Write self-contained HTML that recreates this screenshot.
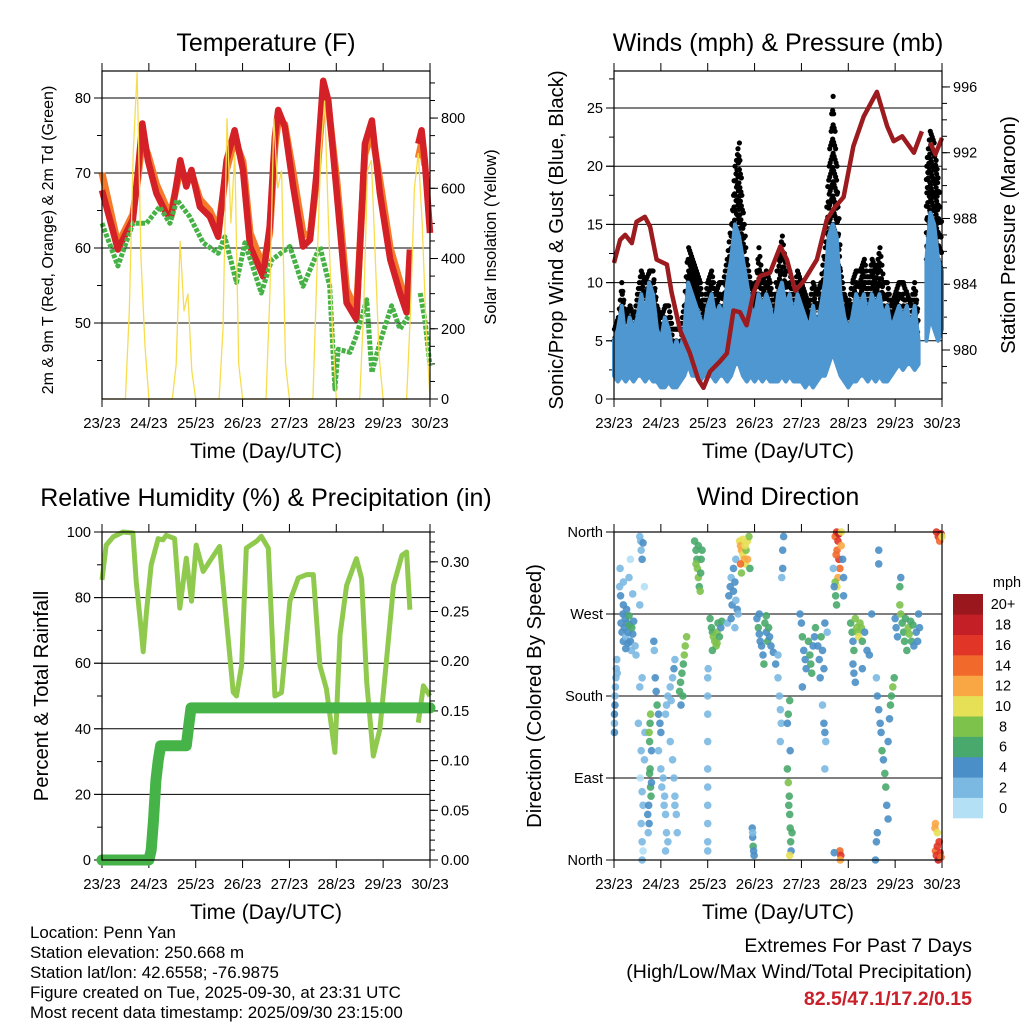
<!DOCTYPE html>
<html><head><meta charset="utf-8"><style>
body{margin:0;background:#fff;}
svg{display:block;font-family:"Liberation Sans",Arial,sans-serif;}
</style></head><body>
<svg id="chart" width="1024" height="1024" viewBox="0 0 1024 1024" xmlns="http://www.w3.org/2000/svg">
<rect width="1024" height="1024" fill="#fff"/>
<g id="g1"></g>
<g id="g2"></g>
<g id="g3"></g>
<g id="g4"></g>
<text x="266" y="51" font-size="25" text-anchor="middle">Temperature (F)</text>
<text x="778" y="51" font-size="25" text-anchor="middle">Winds (mph) &amp; Pressure (mb)</text>
<text x="266" y="506" font-size="25" text-anchor="middle">Relative Humidity (%) &amp; Precipitation (in)</text>
<text x="778" y="505" font-size="25" text-anchor="middle">Wind Direction</text>
<text x="266" y="458" font-size="21" text-anchor="middle">Time (Day/UTC)</text>
<text x="778" y="458" font-size="21" text-anchor="middle">Time (Day/UTC)</text>
<text x="266" y="919" font-size="21" text-anchor="middle">Time (Day/UTC)</text>
<text x="778" y="919" font-size="21" text-anchor="middle">Time (Day/UTC)</text>
<text transform="translate(53,240) rotate(-90)" font-size="16" text-anchor="middle">2m &amp; 9m T (Red, Orange) &amp; 2m Td (Green)</text>
<text transform="translate(496,237) rotate(-90)" font-size="16.4" text-anchor="middle">Solar Insolation (Yellow)</text>
<text transform="translate(563,240) rotate(-90)" font-size="20.3" text-anchor="middle">Sonic/Prop Wind &amp; Gust (Blue, Black)</text>
<text transform="translate(1015,235) rotate(-90)" font-size="20.3" text-anchor="middle">Station Pressure (Maroon)</text>
<text transform="translate(48,696) rotate(-90)" font-size="20.3" text-anchor="middle">Percent &amp; Total Rainfall</text>
<text transform="translate(541,696) rotate(-90)" font-size="20.3" text-anchor="middle">Direction (Colored By Speed)</text>
<g font-size="16.9">
<text x="30" y="938">Location: Penn Yan</text>
<text x="30" y="958">Station elevation: 250.668 m</text>
<text x="30" y="978">Station lat/lon: 42.6558; -76.9875</text>
<text x="30" y="998">Figure created on Tue, 2025-09-30, at 23:31 UTC</text>
<text x="30" y="1018">Most recent data timestamp: 2025/09/30 23:15:00</text>
</g>
<g font-size="19.5" text-anchor="end">
<text x="972" y="952">Extremes For Past 7 Days</text>
<text x="972" y="978">(High/Low/Max Wind/Total Precipitation)</text>
<text x="972" y="1005" fill="#c9202a" font-weight="bold">82.5/47.1/17.2/0.15</text>
</g>
</svg>
<script>
// ---------- data ----------
const dayLabels = ["23/23","24/23","25/23","26/23","27/23","28/23","29/23","30/23"];
const tempT = [0,0.34,0.66,0.77,0.86,0.98,1.16,1.37,1.48,1.67,1.8,1.91,2.09,2.3,2.48,2.66,2.83,3.01,3.16,3.44,3.58,3.69,3.76,3.9,4.08,4.29,4.44,4.58,4.72,4.83,5.01,5.22,5.43,5.61,5.76,5.93,6.15,6.36,6.5,6.57,6.66,6.75,6.82,6.89,7];
const tempRed = [67.7,59.8,63.8,70.4,76.6,71.7,67.3,64.6,64.3,71.7,68.2,70.4,65.5,64.2,61.5,71.7,75.7,70.4,60.2,56.2,62.9,74.8,78.4,76.2,68.2,60.2,61.1,70,82.3,79.7,67.3,52.7,50.5,73.9,77,67.3,58.5,54,51.4,59.8,null,73.9,75.7,71.7,62];
const tempOrange = [70,60.5,64.5,69.5,74.5,72.5,68.5,65.5,65,70.5,68.8,70,66.5,65,62.5,70.5,74.5,71.5,62,57.5,62,73.5,77,76.5,70,62,61.5,69,80.5,79,69,54.5,51.5,72.5,75.5,69,60,55.5,52.5,null,null,72,74,71,null];
const dewT = [0,0.34,0.66,0.95,1.23,1.45,1.6,1.87,2.16,2.48,2.62,2.87,3.05,3.4,3.62,4.01,4.29,4.65,4.86,4.97,5.04,5.29,5.43,5.65,5.76,5.93,6.18,6.36,6.55,6.66,6.79,6.89,7];
const dewV = [63.3,57.6,63.3,63.3,65.5,63.3,66.4,64.2,60.7,59.3,61.5,55.4,60.7,54,58.4,60.2,54.9,60.2,54.9,41.2,46.5,46.1,48.3,53.1,43.4,47.4,52.3,49.2,51,null,54,50.5,44.3];
const solarV = [0,0,0,0,0,0,0,250,700,930,400,150,0,0,0,0,0,0,0,100,450,250,300,80,0,0,0,0,0,0,0,200,800,500,700,100,0,0,0,0,0,0,0,300,800,600,650,100,0,0,0,0,0,0,0,350,700,850,500,200,0,0,0,0,0,0,0,250,650,680,400,120,0,0,0,0,0,0,0,250,600,700,500,200,0];
const windHi = [5,6,8,5,7,6,7,9,7,10,9,6,5,7,6,4,5,4,6,10,9,8,7,6,8,9,7,8,7,10,12,15,14,12,10,8,7,9,8,9,8,6,9,10,8,9,7,9,8,7,6,8,6,8,10,14,15,14,9,7,6,7,9,8,9,7,9,8,9,7,8,6,7,8,7,8,6,8,5,null,12,16,15,12,11];
const windLo = [2,1.5,2,1.5,2,1.5,2,2,1.5,2,1.5,1.5,1,1,1.5,1,1,1.5,2,3,2,2,1.5,2,2,2,1.5,2,2,1.5,2,3,3,2,1.5,2,1.5,2,1.5,2,1.5,1.5,1.5,2,1.5,2,1.5,1.5,1.5,1,1.5,1,1.5,2,2,3,4,3,2,1.5,1,1.5,1.5,2,2,1.5,2,1.5,2,1.5,1.5,2,2.5,3,2.5,3,3,2.5,3,null,5,7,6,5,6];
const gustV = [6,7,10,7,8,7,9,11,10,11,11,8,7,8,8,6,6,6,8,13,12,11,10,8,10,11,9,10,10,12,15,20,22,16,12,10,9,13,10,11,10,8,12,14,11,11,9,11,10,9,8,10,9,10,13,20,26,20,11,9,8,10,11,11,12,10,12,11,13,10,10,8,9,10,10,9,8,10,7,null,20,23,22,19,14];
const pressT = [0,0.13,0.24,0.38,0.48,0.66,0.77,0.91,1.13,1.23,1.41,1.62,1.8,1.91,2.05,2.26,2.41,2.55,2.69,2.83,2.98,3.12,3.33,3.55,3.69,3.87,4.05,4.33,4.54,4.69,4.9,5.11,5.33,5.61,5.83,5.97,6.15,6.4,6.57,6.66,6.75,6.86,7];
const pressV = [985.3,986.7,987.0,986.5,987.8,988.1,987.5,985.5,985.2,983.5,981.2,979.8,978.2,977.7,978.7,979.3,979.8,982.4,982.3,981.5,983.5,984.5,984.7,986.3,985.5,983.6,984.2,985.5,987.9,988.6,989.3,992.4,994.2,995.7,993.6,992.7,993.0,992.0,993.3,null,992.6,991.9,992.9];
const rhT = [0,0.09,0.24,0.45,0.66,0.73,0.84,0.88,0.95,1.05,1.2,1.3,1.37,1.55,1.66,1.8,1.91,2.01,2.16,2.3,2.51,2.66,2.8,2.87,2.98,3.08,3.3,3.4,3.55,3.69,3.83,4.01,4.19,4.37,4.51,4.65,4.79,4.97,5.08,5.22,5.43,5.54,5.65,5.79,5.93,6.08,6.22,6.4,6.5,6.57,6.66,6.75,6.86,7];
const rhV = [85.4,96,98.5,100,99.7,85,69.6,63.5,75.8,90,98,97.6,99,98,76.8,92,78.9,96,88,91.1,95.6,72.6,51.2,50,59.3,95.1,97.2,98.7,95.1,50,51,78.9,86,87,87,59.3,52.2,32.8,68.5,83.7,91.9,85.8,54.3,31.7,39.9,62.2,83.7,92.9,93.9,76.3,null,41.9,53.1,50];
const precipT = [0,1.0,1.05,1.1,1.15,1.2,1.25,1.8,1.85,1.9,7];
const precipV = [0,0,0.01,0.04,0.08,0.1,0.115,0.115,0.135,0.153,0.153];
const dirT = [0.01,0.01,0.02,0.01,0.03,0.04,0.05,0.06,0.07,0.02,
0.15,0.17,0.19,0.2,0.22,0.24,0.25,0.27,0.28,0.3,0.32,0.33,0.35,0.37,0.4,0.42,0.45,0.47,0.3,0.2,0.25,0.38,
0.12,0.13,0.2,0.14,0.32,0.35,0.4,
0.55,0.57,0.58,0.6,0.62,0.65,0.55,0.55,0.6,0.52,0.56,0.6,0.62,0.58,0.6,0.62,0.6,0.58,0.65,0.66,
0.76,0.78,0.79,0.8,0.74,0.72,0.73,0.75,0.77,0.8,0.75,0.77,0.78,0.76,
0.88,0.9,0.92,0.95,0.98,1.0,0.86,0.85,0.95,1.0,1.05,1.08,1.1,1.12,1.02,1.07,1.15,1.1,
1.1,1.12,1.15,1.2,1.22,1.25,1.28,1.3,
1.4,1.42,1.45,1.48,1.5,1.52,1.55,1.47,1.43,
1.2,1.25,1.28,1.3,1.33,1.35,1.3,
1.72,1.75,1.77,1.78,1.8,1.82,1.84,1.86,1.88,1.8,1.75,1.85,
2.0,2.0,2.0,2.0,2.0,2.0,2.0,2.0,2.0,2.0,2.01,
2.05,2.08,2.1,2.12,2.15,2.18,2.2,2.22,2.25,2.28,2.3,2.1,2.2,
2.45,2.48,2.5,2.52,2.55,2.58,2.6,2.63,2.65,2.42,2.5,2.55,2.6,2.58,
2.68,2.7,2.72,2.75,2.78,2.8,2.82,2.85,2.88,2.9,2.75,2.7,2.85,2.8,2.72,
2.95,2.96,2.97,2.98,2.99,2.96,
3.05,3.08,3.1,3.12,3.15,3.18,3.2,3.22,3.25,3.28,3.3,3.32,3.35,3.4,3.45,3.5,3.1,3.25,
3.5,3.53,3.55,3.57,3.55,3.6,3.6,3.62,3.58,
3.7,3.72,3.74,3.75,3.76,3.77,3.78,3.8,3.73,3.75,3.7,3.72,3.75,3.76,
3.97,4.0,4.02,4.05,4.08,4.1,4.15,4.18,4.2,4.22,4.25,4.28,4.3,4.35,4.38,4.42,4.45,4.48,4.5,4.55,4.02,4.4,
4.48,4.5,4.52,4.5,4.45,
4.72,4.75,4.78,4.76,4.8,4.82,4.78,4.76,4.85,4.8,4.74,4.72,4.73,4.75,4.7,4.68,4.85,4.88,4.9,4.9,
4.82,4.84,4.83,4.7,
5.05,5.08,5.1,5.12,5.15,5.18,5.2,5.22,5.25,5.28,5.3,5.35,5.4,5.45,5.1,5.12,5.15,5.5,5.3,
5.6,5.62,5.65,5.68,5.7,5.72,5.75,5.78,5.8,5.82,5.85,5.9,5.92,5.95,5.98,5.88,5.85,5.6,5.62,5.58,5.65,5.65,
6.0,6.02,6.05,6.1,6.12,6.15,6.18,6.2,6.22,6.28,6.3,6.33,6.35,6.38,6.4,6.45,6.48,6.5,6.52,6.1,6.12,6.25,
6.86,6.88,6.9,6.92,6.94,6.96,6.98,6.85,6.86,6.9,6.88,6.92,6.95,6.98,7.0];
const dirDeg = [150,160,170,140,190,200,210,220,205,180,
260,250,270,240,255,265,245,275,260,250,268,258,240,230,248,262,235,225,238,280,232,255,
300,320,305,290,310,330,292,
355,350,340,330,348,300,280,190,200,150,90,75,60,40,20,10,0,120,110,140,
95,80,70,85,60,50,30,40,100,120,140,150,160,130,
200,185,170,160,150,140,230,240,120,100,90,70,50,30,80,60,20,10,
160,170,180,190,175,200,210,220,
185,195,205,215,225,235,245,180,170,
130,110,90,70,50,30,60,
350,340,330,320,310,300,295,330,340,345,325,315,
200,180,160,100,80,60,40,20,10,130,210,
265,255,250,245,240,235,250,260,245,255,262,230,238,
290,300,310,280,295,305,285,275,270,260,265,320,330,255,
350,345,340,335,330,325,340,350,355,320,352,325,330,345,315,
35,25,15,10,5,30,
265,255,248,240,235,225,215,260,250,240,255,245,235,228,215,225,270,268,
200,180,165,150,130,320,340,355,310,
100,85,70,50,35,20,10,30,60,5,150,160,175,120,
270,260,245,230,220,210,240,225,215,205,235,245,255,235,220,245,230,210,260,250,190,200,
150,140,130,100,170,
355,360,350,340,330,320,310,300,345,358,335,305,290,280,300,320,360,330,310,290,
10,5,0,8,
260,250,240,230,265,255,250,245,260,255,240,250,230,225,215,205,195,270,210,
200,180,165,150,140,120,110,95,80,60,45,170,180,190,200,155,130,20,30,0,325,340,
265,255,245,280,270,260,250,240,265,255,248,262,240,258,235,250,240,270,255,300,310,230,
10,5,15,0,20,8,3,35,40,30,360,355,350,358,355];
const dirSpd = [3,4,4,4,2,3,3,2,3,3,
4,4,5,4,5,4,3,5,4,4,6,6,4,3,4,5,3,2,4,4,4,6,
2,2,3,4,2,1,2,
2,2,2,4,4,1,2,2,2,3,1,2,2,2,2,1,2,2,2,2,
6,7,6,5,4,4,3,4,6,5,8,7,8,7,
4,5,6,4,5,4,3,4,2,2,2,2,2,3,3,2,2,3,
2,2,2,3,2,3,4,3,
6,7,6,7,8,8,8,6,5,
2,2,3,2,2,2,3,
7,6,7,9,8,7,8,6,7,6,8,6,
2,3,2,2,2,2,2,2,2,2,3,
6,6,7,8,8,8,8,7,6,5,6,7,8,
4,4,3,4,4,4,3,4,3,3,4,4,2,3,
10,12,12,11,13,10,9,10,8,6,10,14,12,11,8,
5,4,6,4,4,3,
5,6,4,5,4,4,6,6,5,6,6,5,4,4,5,3,5,6,
3,2,2,2,2,4,4,4,3,
7,8,6,6,7,6,5,6,7,10,4,7,6,5,
4,5,6,4,5,4,6,6,7,6,5,4,7,4,4,6,4,4,4,2,4,5,
4,4,3,2,3,
15,17,16,14,16,14,12,10,13,18,15,8,7,7,4,3,10,4,5,4,
14,16,12,4,
6,7,5,6,8,8,9,10,8,9,6,5,4,4,4,4,4,5,4,
2,4,4,5,4,6,5,6,6,5,4,6,7,8,7,4,4,4,5,4,4,4,
4,5,4,8,8,7,6,7,6,8,8,7,7,6,4,4,5,4,4,6,4,6,
14,16,17,18,16,17,15,12,12,10,16,17,14,18,10];
const speedColors = ["#b4e0f6","#7bb8e2","#4a8fc7","#49a86b","#7dc24b","#e6e057","#f8a744","#f26a2b","#e03527","#c41f27","#9a181d"];
const speedLabels = ["0","2","4","6","8","10","12","14","16","18","20+"];

// ---------- helpers ----------
const NS = "http://www.w3.org/2000/svg";
function mk(parent, tag, attrs) {
  const e = document.createElementNS(NS, tag);
  for (const k in attrs) e.setAttribute(k, attrs[k]);
  parent.appendChild(e);
  return e;
}
function linScale(d0, d1, r0, r1) { return v => r0 + (v - d0) * (r1 - r0) / (d1 - d0); }
function pathFrom(xs, ys, fx, fy) {
  let d = "", pen = false;
  for (let i = 0; i < xs.length; i++) {
    if (ys[i] === null || ys[i] === undefined) { pen = false; continue; }
    d += (pen ? "L" : "M") + fx(xs[i]).toFixed(1) + "," + fy(ys[i]).toFixed(1);
    pen = true;
  }
  return d;
}
function drawBase(g, P, opts) {
  const fx = linScale(0, 7, P.x0, P.x1);
  const fyL = linScale(opts.lmin, opts.lmax, P.y1, P.y0);
  opts.grid.forEach(v => {
    const ln = mk(g, "line", {x1: P.x0 - 8, x2: P.x1, y1: fyL(v), y2: fyL(v), stroke: "#000", "stroke-width": 1});
    
    
  });
  for (let d = 0; d <= 7; d++) {
    const x = fx(d);
    mk(g, "line", {x1: x, x2: x, y1: P.y1, y2: P.y1 + 8, stroke: "#000", "stroke-width": 1});
    mk(g, "line", {x1: x, x2: x, y1: P.y0 - 8, y2: P.y0, stroke: "#000", "stroke-width": 1});
    const t = mk(g, "text", {x: x, y: P.y1 + 29, "font-size": 15, "text-anchor": "middle"});
    t.textContent = dayLabels[d];
    
    
  }
  opts.lminor.forEach(v => mk(g, "line", {x1: P.x0 - 5, x2: P.x0, y1: fyL(v), y2: fyL(v), stroke: "#000"}));
  opts.lmajor.forEach((v, i) => {
    mk(g, "line", {x1: P.x0 - 8, x2: P.x0, y1: fyL(v), y2: fyL(v), stroke: "#000"});
    const t = mk(g, "text", {x: P.x0 - 11, y: fyL(v) + 5, "font-size": 14.5, "text-anchor": "end"});
    t.textContent = opts.llabels[i];
    
    
  });
  if (opts.rmin !== undefined) {
    const fyR = linScale(opts.rmin, opts.rmax, P.y1, P.y0);
    opts.rminor.forEach(v => mk(g, "line", {x1: P.x1, x2: P.x1 + 5, y1: fyR(v), y2: fyR(v), stroke: "#000"}));
    opts.rmajor.forEach((v, i) => {
      mk(g, "line", {x1: P.x1, x2: P.x1 + 8, y1: fyR(v), y2: fyR(v), stroke: "#000"});
      const t = mk(g, "text", {x: P.x1 + 11, y: fyR(v) + 5, "font-size": 14.5});
      t.textContent = opts.rlabels[i];
      
      
    });
  }
  return fx;
}
function frame(g, P) {
  const r = mk(g, "rect", {x: P.x0, y: P.y0, width: P.x1 - P.x0, height: P.y1 - P.y0, fill: "none", stroke: "#000", "stroke-width": 1.2});
  
  
}
function range(a, b, s) { const o = []; for (let v = a; v <= b + 1e-9; v += s) o.push(+v.toFixed(4)); return o; }

// ---------- panel 1: temperature ----------
(function () {
  const g = document.getElementById("g1");
  const P = {x0: 102, x1: 430, y0: 71, y1: 399};
  const fx = drawBase(g, P, {lmin: 39.87, lmax: 83.6, grid: [50, 60, 70, 80], lmajor: [50, 60, 70, 80], llabels: ["50", "60", "70", "80"], lminor: [45, 55, 65, 75],
    rmin: 0, rmax: 934, rmajor: [0, 200, 400, 600, 800], rlabels: ["0", "200", "400", "600", "800"], rminor: range(0, 900, 50)});
  const fyT = linScale(39.87, 83.6, P.y1, P.y0);
  const fyS = linScale(0, 934, P.y1, P.y0);
  const o = mk(g, "path", {d: pathFrom(tempT, tempOrange, fx, fyT), fill: "none", stroke: "#f47b29", "stroke-width": 7, "stroke-linejoin": "round"});
  
  
  const r = mk(g, "path", {d: pathFrom(tempT, tempRed, fx, fyT), fill: "none", stroke: "#d42027", "stroke-width": 6.5, "stroke-linejoin": "round"});
  
  
  const gr = mk(g, "path", {d: pathFrom(dewT, dewV, fx, fyT), fill: "none", stroke: "#46b246", "stroke-width": 5, "stroke-linejoin": "round", "stroke-dasharray": "4 1.5"});
  
  
  const st = solarV.map((v, i) => i / 12);
  const s = mk(g, "path", {d: pathFrom(st, solarV, fx, fyS), fill: "none", stroke: "#f7dd4e", "stroke-width": 1.3});
  
  
  frame(g, P);
})();

// ---------- panel 2: winds & pressure ----------
(function () {
  const g = document.getElementById("g2");
  const P = {x0: 614, x1: 942, y0: 71, y1: 399};
  const fx = drawBase(g, P, {lmin: 0, lmax: 28.18, grid: [5, 10, 15, 20, 25], lmajor: [0, 5, 10, 15, 20, 25], llabels: ["0", "5", "10", "15", "20", "25"], lminor: [2.5, 7.5, 12.5, 17.5, 22.5, 27.5],
    rmin: 977.02, rmax: 996.97, rmajor: [980, 984, 988, 992, 996], rlabels: ["980", "984", "988", "992", "996"], rminor: range(978, 996, 1)});
  const fyW = linScale(0, 28.18, P.y1, P.y0);
  const fyP = linScale(977.02, 996.97, P.y1, P.y0);
  const wt = windHi.map((v, i) => i / 12);
  // gust dots, spread between consecutive samples
  for (let i = 0; i < gustV.length - 1; i++) {
    if (gustV[i] === null || gustV[i + 1] === null) continue;
    for (let s = 0; s < 4; s++) {
      const f = s / 4;
      const gv = gustV[i] * (1 - f) + gustV[i + 1] * f;
      const hv = windHi[i] * (1 - f) + windHi[i + 1] * f;
      const tt = wt[i] + f / 12;
      const n = Math.max(1, Math.round((gv - hv) / 1.2));
      for (let k = 0; k <= n; k++) {
        const v = hv + (gv - hv) * k / n;
        const c = mk(g, "circle", {cx: fx(tt + (k % 2) * 0.01), cy: fyW(v), r: 2.6, fill: "#000"});
        
        
      }
    }
  }
  let seg = [];
  const flush = () => {
    if (seg.length < 2) { seg = []; return; }
    let d = "M" + seg.map(i => fx(wt[i]).toFixed(1) + "," + fyW(windHi[i]).toFixed(1)).join("L");
    d += "L" + seg.slice().reverse().map(i => fx(wt[i]).toFixed(1) + "," + fyW(windLo[i]).toFixed(1)).join("L") + "Z";
    const p = mk(g, "path", {d: d, fill: "#4f97d0", stroke: "#4f97d0", "stroke-width": 4, "stroke-linejoin": "round"});
    
    
    seg = [];
  };
  for (let i = 0; i < windHi.length; i++) { if (windHi[i] === null) flush(); else seg.push(i); }
  flush();
  const pr = mk(g, "path", {d: pathFrom(pressT, pressV, fx, fyP), fill: "none", stroke: "#9b1b1e", "stroke-width": 4.5, "stroke-linejoin": "round"});
  
  
  frame(g, P);
})();

// ---------- panel 3: RH & precip ----------
(function () {
  const g = document.getElementById("g3");
  const P = {x0: 102, x1: 430, y0: 532, y1: 860};
  const fx = drawBase(g, P, {lmin: 0, lmax: 100, grid: [20, 40, 60, 80], lmajor: [0, 20, 40, 60, 80, 100], llabels: ["0", "20", "40", "60", "80", "100"], lminor: [10, 30, 50, 70, 90],
    rmin: 0, rmax: 0.33, rmajor: [0, 0.05, 0.1, 0.15, 0.2, 0.25, 0.3], rlabels: ["0.00", "0.05", "0.10", "0.15", "0.20", "0.25", "0.30"], rminor: range(0, 0.33, 0.01)});
  const fyR = linScale(0, 100, P.y1, P.y0);
  const fyP = linScale(0, 0.33, P.y1, P.y0);
  const rh = mk(g, "path", {d: pathFrom(rhT, rhV, fx, fyR), fill: "none", stroke: "#8fca4e", "stroke-width": 5, "stroke-linejoin": "round"});
  
  
  const pp = mk(g, "path", {d: pathFrom(precipT, precipV, fx, fyP), fill: "none", stroke: "#45b348", "stroke-width": 11, "stroke-linejoin": "round", "stroke-linecap": "round"});
  
  
  frame(g, P);
})();

// ---------- panel 4: wind direction ----------
(function () {
  const g = document.getElementById("g4");
  const P = {x0: 614, x1: 942, y0: 532, y1: 860};
  const fx = drawBase(g, P, {lmin: 0, lmax: 360, grid: [90, 180, 270, 360], lmajor: [0, 90, 180, 270, 360], llabels: ["North", "East", "South", "West", "North"], lminor: []});
  const fy = linScale(0, 360, P.y1, P.y0);
  for (let i = 0; i < dirT.length; i++) {
    const ci = Math.min(10, Math.floor(dirSpd[i] / 2));
    const c = mk(g, "circle", {cx: fx(dirT[i]), cy: fy(dirDeg[i]), r: 3.8, fill: speedColors[ci], "fill-opacity": 0.9});
    
    
  }
  frame(g, P);
  const lg = mk(g, "g", {});
  
  
  const h = 224 / 11;
  for (let k = 0; k < 11; k++) {
    const y = 594 + (10 - k) * h;
    const b = mk(lg, "rect", {x: 953, y: y, width: 30, height: h + 0.3, fill: speedColors[k]});
    
    
    const t = mk(lg, "text", {x: 1003, y: y + h / 2 + 5, "font-size": 14.5, "text-anchor": "middle"});
    t.textContent = speedLabels[k];
    
    
  }
  const u = mk(lg, "text", {x: 1007, y: 587, "font-size": 14.5, "text-anchor": "middle"});
  u.textContent = "mph";
  
  
})();
</script>
</body></html>
